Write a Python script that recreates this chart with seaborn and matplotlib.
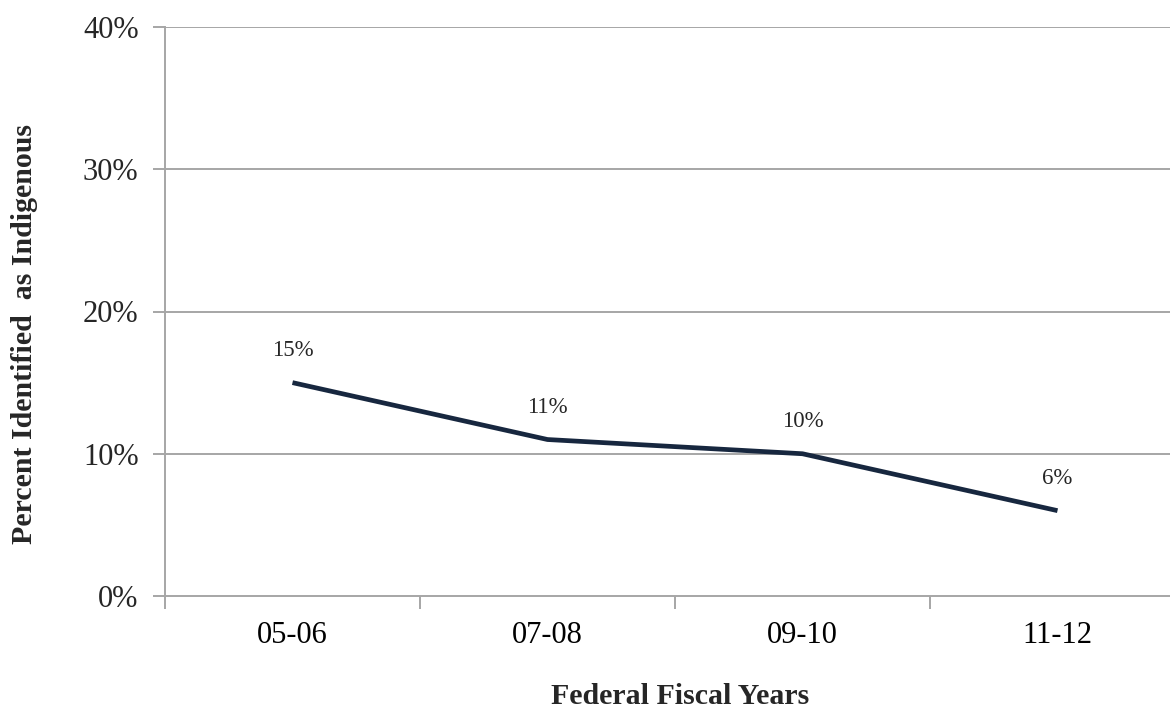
import matplotlib
matplotlib.use("Agg")
import matplotlib.pyplot as plt
import seaborn as sns
import pandas as pd

# Share of children identified as Indigenous, by federal fiscal year
years = ["05-06", "07-08", "09-10", "11-12"]
percent = [15, 11, 10, 6]
y_ticks = [0, 10, 20, 30, 40]

sns.set_theme(style="white")
plt.rcParams["font.family"] = ["Liberation Serif", "DejaVu Serif"]

df = pd.DataFrame({"year": years, "pct": percent})
df["pos"] = range(len(years))

fig = plt.figure(figsize=(11.7, 7.09), dpi=100)
W, H = 1170, 709
left, right, top, bottom = 165, 1185, 27, 596
ax = fig.add_axes([left / W, 1 - bottom / H, (right - left) / W, (bottom - top) / H])

grid_c = "#a6a6a6"
for t in y_ticks[1:]:
    ax.axhline(t, color=grid_c, lw=1.4, zorder=1)

sns.lineplot(data=df, x="pos", y="pct", ax=ax, color="#17273f", lw=3.4,
             zorder=3, solid_capstyle="butt")

for x, v in zip(df["pos"], percent):
    ax.annotate(f"{v}%", (x, v), xytext=(0, 23), textcoords="offset points",
                ha="center", va="center", fontsize=16.5, color="#262626")

ax.set_xlim(-0.5, len(years) - 0.5)
ax.set_ylim(0, 40)
ax.set_yticks(y_ticks)
ax.set_yticklabels([f"{t}%" for t in y_ticks], fontsize=22, color="#262626")
ax.set_xticks(range(len(years)))
ax.set_xticklabels(years, fontsize=22, color="#000000")
ax.set_xticks([i - 0.5 for i in range(len(years) + 1)], minor=True)

ax.tick_params(axis="y", which="major", direction="out", length=9, width=1.4,
               color=grid_c, pad=10, left=True)
ax.tick_params(axis="x", which="major", length=0, pad=18)
ax.tick_params(axis="x", which="minor", direction="out", length=9, width=1.4,
               color=grid_c, bottom=True)

for s in ["top", "right"]:
    ax.spines[s].set_visible(False)
for s in ["left", "bottom"]:
    ax.spines[s].set_color(grid_c)
    ax.spines[s].set_linewidth(1.4)

ax.set_xlabel("")
ax.set_ylabel("")
fig.text(680 / W, 1 - 697 / H, "Federal Fiscal Years", ha="center", va="center",
         fontsize=21.5, fontweight="bold")
fig.text(25 / W, 1 - 334 / H, "Percent Identified  as Indigenous", ha="center",
         va="center", rotation=90, fontsize=21.5, fontweight="bold")

fig.savefig("out.png", dpi=100)
